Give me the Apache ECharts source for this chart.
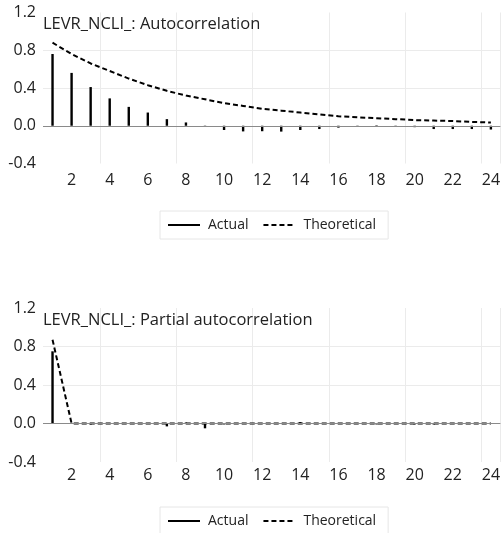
<!DOCTYPE html>
<html>
<head>
<meta charset="utf-8">
<script src="https://cdn.jsdelivr.net/npm/echarts@6/dist/echarts.min.js"></script>
<style>
html,body{margin:0;padding:0;background:#fff;}
#c{width:503px;height:533px;}
</style>
</head>
<body>
<div id="c"></div>
<script>
const lags = ['1','2','3','4','5','6','7','8','9','10','11','12','13','14','15','16','17','18','19','20','21','22','23','24'];
const acfActual = [0.76,0.56,0.41,0.29,0.20,0.14,0.07,0.035,-0.005,-0.045,-0.06,-0.058,-0.062,-0.045,-0.035,-0.02,-0.005,0.005,-0.005,-0.015,-0.035,-0.035,-0.035,-0.04];
const acfTheory = [0.88,0.76,0.66,0.58,0.50,0.43,0.37,0.32,0.28,0.24,0.21,0.18,0.16,0.14,0.12,0.10,0.09,0.08,0.07,0.06,0.055,0.05,0.04,0.035];
const pacfActual = [0.75,-0.005,-0.01,0,0,-0.005,-0.03,0.01,-0.05,-0.01,0.005,-0.005,0.005,0.015,0,0,0,-0.01,0,-0.01,-0.01,0,0,0];
const pacfTheory = [0.87,0,0,0,0,0,0,0,0,0,0,0,0,0,0,0,0,0,0,0,0,0,0,0];
const yTickLabels = ['-0.4','0.0','0.4','0.8','1.2'];
const titles = ['LEVR_NCLI_: Autocorrelation','LEVR_NCLI_: Partial autocorrelation'];
const legendNames = ['Actual','Theoretical'];

const FONT = 'Open Sans';
const chart = echarts.init(document.getElementById('c'), null, {renderer:'canvas'});

function xAxisCfg(gridIndex, margin){
  return {
    type:'category', gridIndex, data: lags, boundaryGap:true,
    axisLine:{show:false}, axisTick:{show:false},
    axisLabel:{interval:(i)=> i%2===1, color:'#222', fontFamily:FONT, fontSize:16, margin},
    splitLine:{show:true, interval:(i)=> i%4===3, lineStyle:{color:'#ebebeb', width:1}}
  };
}
function yAxisCfg(gridIndex){
  return {
    type:'value', gridIndex, min:-0.4, max:1.2, interval:0.4,
    axisLine:{show:false}, axisTick:{show:false},
    axisLabel:{color:'#222', fontFamily:FONT, fontSize:16, margin:7,
      formatter:(v)=> yTickLabels[Math.round((v+0.4)/0.4)] || ''},
    splitLine:{show:true, showMinLine:false, showMaxLine:false, lineStyle:{color:'#ebebeb', width:1}}
  };
}
function barSeries(idx, data){
  return {
    name:'Actual', type:'bar', xAxisIndex:idx, yAxisIndex:idx, data,
    barWidth:2.4, itemStyle:{color:'#000'}, z:3,
    markLine:{silent:true, symbol:'none', label:{show:false}, animation:false,
      lineStyle:{color:'#8a8a8a', type:'solid', width:1}, data:[{yAxis:0}]}
  };
}
function lineSeries(idx, data){
  return {
    name:'Theoretical', type:'line', xAxisIndex:idx, yAxisIndex:idx, data,
    symbol:'none', z:4,
    lineStyle:{color:'#000', width:2, type:[5,3]}, itemStyle:{color:'#000'}
  };
}
function legendCfg(top){
  return {
    left:160, top, orient:'horizontal',
    padding:[7,12,7,8], borderColor:'#e6e6e6', borderWidth:1,
    itemWidth:32, itemHeight:14, itemGap:14,
    textStyle:{color:'#222', fontFamily:FONT, fontSize:14, padding:[0,0,0,3]},
    data:[{name:legendNames[0], icon:'path://M0,0H32V2H0Z'}, {name:legendNames[1], itemStyle:{opacity:0}}]
  };
}

chart.setOption({
  animation:false,
  textStyle:{fontFamily:FONT},
  title:[
    {text:titles[0], left:40, top:16, textStyle:{fontFamily:FONT, fontSize:16.5, fontWeight:'normal', color:'#222'}, padding:[0,3]},
    {text:titles[1], left:40, top:312, textStyle:{fontFamily:FONT, fontSize:16.5, fontWeight:'normal', color:'#222'}, padding:[0,3]}
  ],
  grid:[
    {left:43, width:459, top:12.5, height:151},
    {left:43, width:459, top:308, height:154}
  ],
  xAxis:[xAxisCfg(0,9), xAxisCfg(1,5)],
  yAxis:[yAxisCfg(0), yAxisCfg(1)],
  legend:[legendCfg(211), legendCfg(507)],
  series:[
    barSeries(0, acfActual), lineSeries(0, acfTheory),
    barSeries(1, pacfActual), lineSeries(1, pacfTheory)
  ]
});
</script>
</body>
</html>
